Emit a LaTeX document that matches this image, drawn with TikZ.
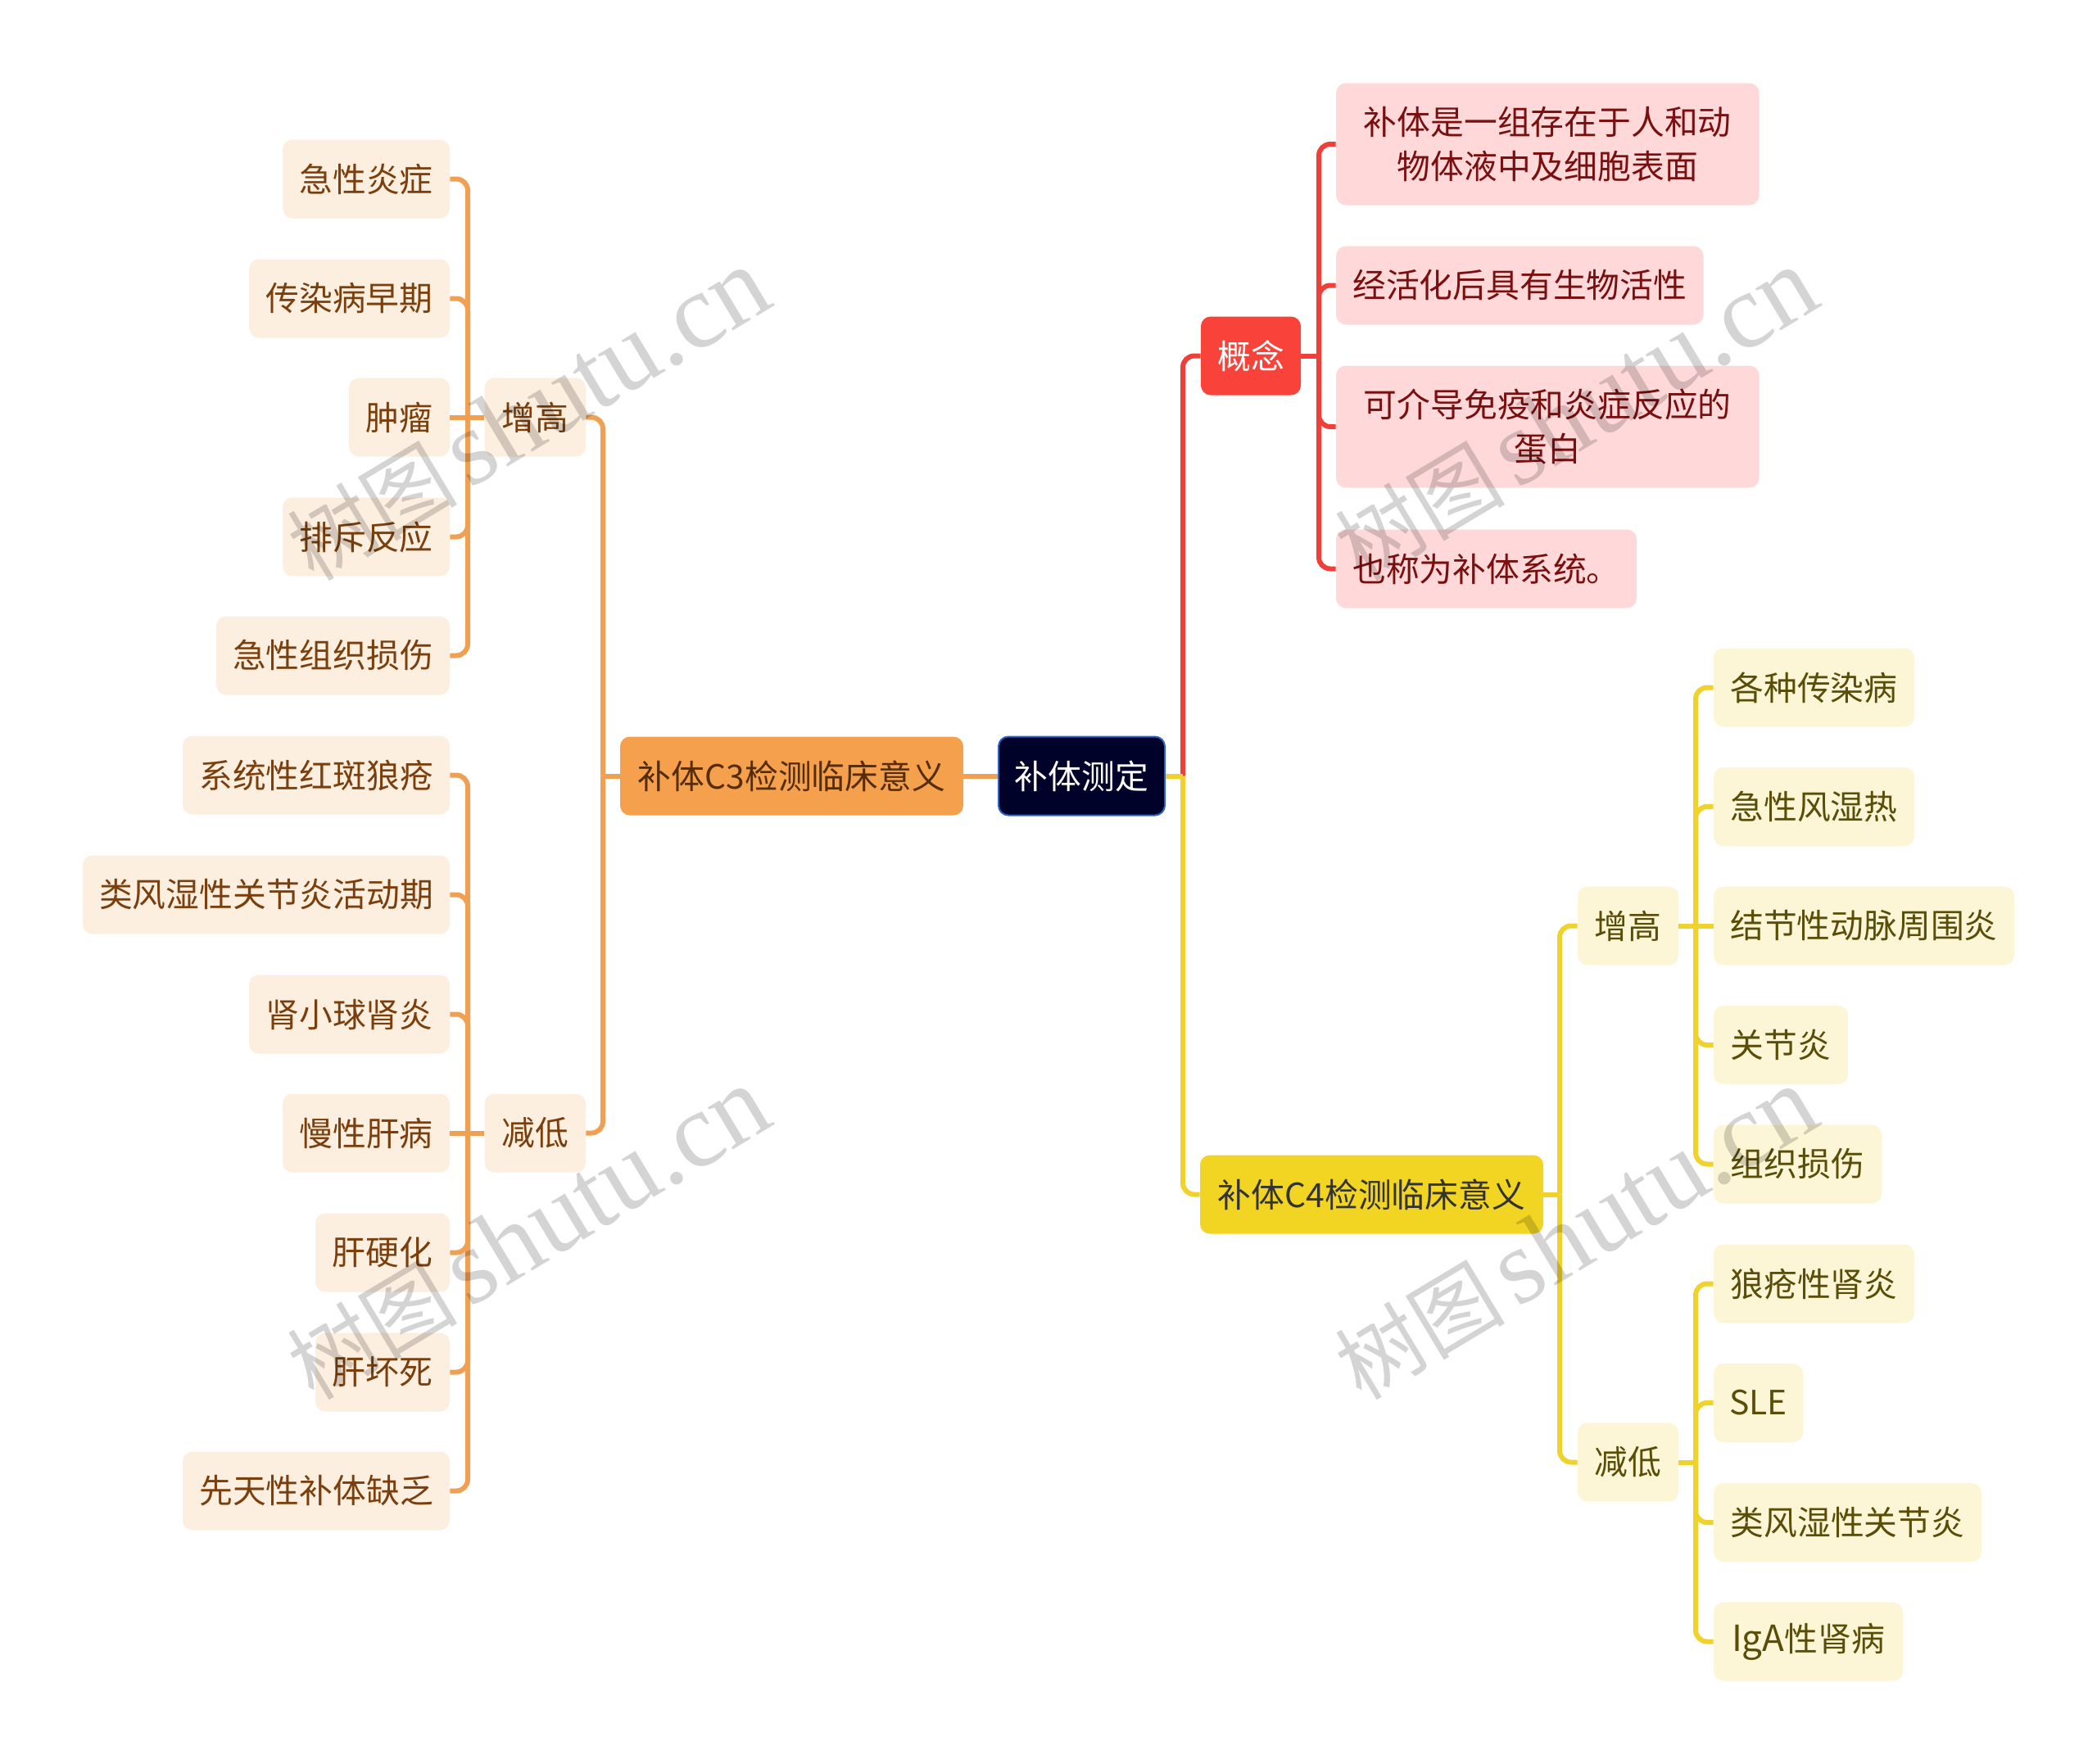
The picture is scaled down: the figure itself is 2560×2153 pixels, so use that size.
\documentclass[tikz,border=0pt]{standalone}
\usepackage{fontspec}
\setmainfont{Noto Sans CJK SC}
\newfontfamily\wmlatin{Liberation Serif}
\definecolor{rootfill}{HTML}{000229}
\definecolor{rootedge}{HTML}{2F62C0}
\definecolor{redc}{HTML}{F9423A}
\definecolor{redl}{HTML}{EE4039}
\definecolor{redp}{HTML}{FFD9D9}
\definecolor{redt}{HTML}{7A0F0F}
\definecolor{orgc}{HTML}{F5A04D}
\definecolor{orgl}{HTML}{EFA052}
\definecolor{orgp}{HTML}{FDEFE0}
\definecolor{orgt}{HTML}{7A3F0C}
\definecolor{ylwc}{HTML}{F2D423}
\definecolor{ylwl}{HTML}{EFD22B}
\definecolor{ylwp}{HTML}{FCF6D6}
\definecolor{ylwt}{HTML}{5A4D08}
\tikzset{
  x=0.5pt,y=-0.5pt,
  boxbase/.style={rounded corners=6pt,inner sep=0pt,minimum height=48pt,align=center,
    font=\fontsize{20.4}{27}\selectfont},
  rootbox/.style={boxbase,fill=rootfill,draw=rootedge,line width=1pt,text=white},
  redmain/.style={boxbase,fill=redc,text=white},
  redleaf/.style={boxbase,fill=redp,text=redt},
  orgmain/.style={boxbase,fill=orgc,text=orgt!70!black},
  orgleaf/.style={boxbase,fill=orgp,text=orgt},
  ylwmain/.style={boxbase,fill=ylwc,text=black!80},
  ylwleaf/.style={boxbase,fill=ylwp,text=ylwt},
  redbig/.style={redleaf,minimum height=74.5pt},
  link/.style={line width=3pt,rounded corners=7pt},
  redlink/.style={link,draw=redl},
  orglink/.style={link,draw=orgl},
  ylwlink/.style={link,draw=ylwl},
  mark text/.style={text=black,text opacity=0.17,rotate=31,inner sep=0pt},
}
\newcommand\wmtext{{\fontsize{52}{52}\selectfont 树图}\hspace{7pt}{\wmlatin\fontsize{65}{65}\selectfont shutu.cn}}
\newcommand\bx[6]{%
  \pgfmathsetmacro\bw{(#4-#3)*0.5}%
  \pgfmathsetmacro\bcx{(#3+#4)/2}%
  \node[#1,minimum width=\bw pt] (#2) at (\bcx,#5) {#6};}
% a link starts on the trunk, so the trunk stays unbroken at the parent
\newcommand\linkR[4]{\draw[#1] (#2.east -| #3) |- (#4.west);}
\newcommand\linkL[4]{\draw[#1] (#2.west -| #3) |- (#4.east);}
\newcommand\stubR[3]{\draw[#1] (#2.east) -- (#2.east -| #3);}
\newcommand\stubL[3]{\draw[#1] (#2.west) -- (#2.west -| #3);}
\begin{document}
\begin{tikzpicture}
\useasboundingbox[fill=white] (0,0) rectangle (2560,2153);
% trunks
\coordinate (trRoot) at (1444,947);
\coordinate (trCon) at (1610,434);
\coordinate (trC4) at (1904,1458);
\coordinate (trC4a) at (2070,1130);
\coordinate (trC4b) at (2070,1785);
\coordinate (trC3) at (736,947);
\coordinate (trC3a) at (571,509);
\coordinate (trC3b) at (571,1383);
% central
\bx{rootbox}{root}{1219}{1422}{947.5}{补体测定}
\bx{orgmain}{c3}{757}{1176}{947.5}{补体C3检测临床意义}
\bx{redmain}{con}{1466}{1588}{434.5}{概念}
\bx{ylwmain}{c4}{1465}{1884}{1458.5}{补体C4检测临床意义}
% concept
\bx{redbig}{r1}{1631}{2147.5}{176}{补体是一组存在于人和动\\物体液中及细胞表面}
\bx{redleaf}{r2}{1631}{2079.5}{348.5}{经活化后具有生物活性}
\bx{redbig}{r3}{1631}{2147.5}{521}{可介导免疫和炎症反应的\\蛋白}
\bx{redleaf}{r4}{1631}{1998}{694.5}{也称为补体系统。}
% C4
\bx{ylwleaf}{ya}{1926}{2049}{1130.5}{增高}
\bx{ylwleaf}{yb}{1926}{2049}{1785.5}{减低}
\bx{ylwleaf}{y1}{2092}{2337}{839.5}{各种传染病}
\bx{ylwleaf}{y2}{2092}{2337}{985}{急性风湿热}
\bx{ylwleaf}{y3}{2092}{2459}{1130.5}{结节性动脉周围炎}
\bx{ylwleaf}{y4}{2092}{2256}{1276}{关节炎}
\bx{ylwleaf}{y5}{2092}{2297}{1421.5}{组织损伤}
\bx{ylwleaf}{y6}{2092}{2337}{1567.5}{狼疮性肾炎}
\bx{ylwleaf}{y7}{2092}{2201}{1713}{\vphantom{国}SLE}
\bx{ylwleaf}{y8}{2092}{2419}{1859}{类风湿性关节炎}
\bx{ylwleaf}{y9}{2092}{2323}{2004.5}{{\fontsize{22}{27}\selectfont IgA}性肾病}
% C3
\bx{orgleaf}{oa}{591.5}{715}{509.5}{增高}
\bx{orgleaf}{ob}{591.5}{715}{1383.5}{减低}
\bx{orgleaf}{o1}{345}{549}{218.5}{急性炎症}
\bx{orgleaf}{o2}{304}{549}{364.5}{传染病早期}
\bx{orgleaf}{o3}{426}{549}{509.5}{肿瘤}
\bx{orgleaf}{o4}{345}{549}{655.5}{排斥反应}
\bx{orgleaf}{o5}{264}{549}{800.5}{急性组织损伤}
\bx{orgleaf}{o6}{223}{549}{946.5}{系统性红斑狼疮}
\bx{orgleaf}{o7}{101}{549}{1092.5}{类风湿性关节炎活动期}
\bx{orgleaf}{o8}{304}{549}{1238.5}{肾小球肾炎}
\bx{orgleaf}{o9}{345}{549}{1383.5}{慢性肝病}
\bx{orgleaf}{o10}{385}{549}{1529.5}{肝硬化}
\bx{orgleaf}{o11}{385}{549}{1675.5}{肝坏死}
\bx{orgleaf}{o12}{223}{549}{1820.5}{先天性补体缺乏}
% links: concept side
\linkR{redlink}{root}{trRoot}{con}
\stubR{redlink}{con}{trCon}
\foreach \k in {r1,r2,r3,r4}{\linkR{redlink}{con}{trCon}{\k}}
% links: C4 side
\linkR{ylwlink}{root}{trRoot}{c4}
\stubR{ylwlink}{root}{trRoot}
\stubR{ylwlink}{c4}{trC4}
\linkR{ylwlink}{c4}{trC4}{ya}
\linkR{ylwlink}{c4}{trC4}{yb}
\foreach \k in {y1,y2,y4,y5}{\linkR{ylwlink}{ya}{trC4a}{\k}}
\draw[ylwlink] (ya.east) -- (y3.west);
\foreach \k in {y6,y7,y8,y9}{\linkR{ylwlink}{yb}{trC4b}{\k}}
\stubR{ylwlink}{yb}{trC4b}
% links: C3 side
\draw[orglink] (root.west) -- (c3.east);
\stubL{orglink}{c3}{trC3}
\linkL{orglink}{c3}{trC3}{oa}
\linkL{orglink}{c3}{trC3}{ob}
\foreach \k in {o1,o2,o4,o5}{\linkL{orglink}{oa}{trC3a}{\k}}
\draw[orglink] (oa.west) -- (o3.east);
\foreach \k in {o6,o7,o8,o10,o11,o12}{\linkL{orglink}{ob}{trC3b}{\k}}
\draw[orglink] (ob.west) -- (o9.east);
% watermark
\node[mark text] (w1) at (645,507) {\wmtext};
\node[mark text] (w2) at (645,1507) {\wmtext};
\node[mark text] (w3) at (1924,507) {\wmtext};
\node[mark text] (w4) at (1924,1507) {\wmtext};
\end{tikzpicture}
\end{document}
